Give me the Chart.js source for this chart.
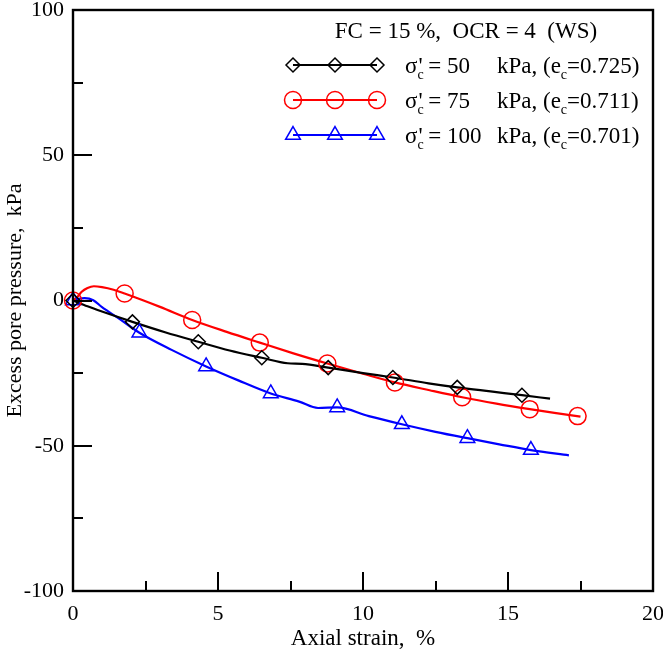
<!DOCTYPE html>
<html><head><meta charset="utf-8">
<script src="https://cdn.jsdelivr.net/npm/chart.js@4.4.0/dist/chart.umd.min.js"></script>
<style>html,body{margin:0;padding:0;background:#fff;}canvas{display:block;}</style>
</head><body>
<canvas id="c" width="663" height="653"></canvas>
<script>
// ---- data (axial strain %, excess pore pressure kPa) ----
const xMin = 0, xMax = 20, xStep = 5;
const yMin = -100, yMax = 100, yStep = 50;

const s50CurveX = [0, 0.5, 1.0, 2.05, 3.2, 4.32, 5.4, 6.51, 7.4, 7.9, 8.8, 10.0, 11.03, 12.26, 13.25, 14.4, 15.48, 16.45];
const s50CurveY = [0, -2.0, -3.8, -7.35, -11.0, -14.2, -17.2, -19.7, -21.6, -21.8, -23.1, -25.0, -26.5, -28.5, -29.9, -31.3, -32.6, -33.8];
const s50MarkX = [0, 2.05, 4.32, 6.51, 8.8, 11.03, 13.25, 15.48];
const s50MarkY = [0, -7.35, -14.2, -19.7, -23.1, -26.5, -29.9, -32.6];

const s75CurveX = [0, 0.15, 0.3, 0.5, 0.72, 1.0, 1.4, 1.78, 3.0, 4.11, 5.3, 6.44, 7.6, 8.77, 10.0, 11.1, 12.3, 13.42, 14.6, 15.75, 16.6, 17.5];
const s75CurveY = [0, 1.2, 3.0, 4.3, 4.9, 4.6, 3.7, 2.4, -2.2, -6.7, -10.8, -14.5, -18.2, -21.7, -25.2, -28.2, -30.9, -33.3, -35.5, -37.4, -38.7, -40.0];
const s75MarkX = [0, 1.78, 4.11, 6.44, 8.77, 11.1, 13.42, 15.75, 17.4];
const s75MarkY = [0, 2.4, -6.7, -14.5, -21.7, -28.2, -33.3, -37.4, -39.8];

const s100CurveX = [0, 0.2, 0.4, 0.7, 1.0, 1.6, 2.29, 3.4, 4.59, 5.7, 6.82, 7.8, 8.45, 9.11, 10.2, 11.34, 12.5, 13.6, 14.7, 15.79, 17.1];
const s100CurveY = [0, 0.6, 0.8, 0.1, -2.3, -6.3, -11.1, -17.0, -22.7, -27.5, -32.0, -34.8, -37.0, -36.8, -39.8, -42.6, -45.2, -47.4, -49.5, -51.5, -53.3];
const s100MarkX = [0, 2.29, 4.59, 6.82, 9.11, 11.34, 13.6, 15.79];
const s100MarkY = [0, -11.1, -22.7, -32.0, -36.8, -42.6, -47.4, -51.5];

const legendTitle = "FC = 15 %,  OCR = 4  (WS)";
const legendStress = ["50", "75", "100"];
const legendVoid = ["0.725", "0.711", "0.701"];
const xTitle = "Axial strain,  %";
const yTitle = "Excess pore pressure,  kPa";

// ---- styles ----
const FONT = '"Liberation Serif", "Times New Roman", serif';
const colors = ["#000000", "#ff0000", "#0000ff"];
const styles = ["rectRot", "circle", "triangle"];
const radii = [7, 8.5, 8.5];

function pts(xs, ys){ return xs.map((x,i)=>({x:x, y:ys[i]})); }

const curves = [[s50CurveX,s50CurveY],[s75CurveX,s75CurveY],[s100CurveX,s100CurveY]];
const marks = [[s50MarkX,s50MarkY],[s75MarkX,s75MarkY],[s100MarkX,s100MarkY]];

const datasets = [];
curves.forEach((c,i)=>{
  datasets.push({data:pts(c[0],c[1]), showLine:true, borderColor:colors[i], borderWidth:2.2,
    pointRadius:0, cubicInterpolationMode:'monotone', clip:false, order:2});
});
marks.forEach((m,i)=>{
  datasets.push({data:pts(m[0],m[1]), showLine:false, borderColor:colors[i], backgroundColor:'rgba(0,0,0,0)',
    pointStyle:styles[i], pointRadius:radii[i], pointBorderWidth:1.5, clip:false, order:1});
});

const framePlugin = {
  id:'frame',
  afterDatasetsDraw(chart){
    const ctx = chart.ctx, a = chart.chartArea;
    const xs = chart.scales.x, ys = chart.scales.y;
    ctx.save();
    ctx.strokeStyle = '#000'; ctx.lineWidth = 2;
    ctx.beginPath();
    for(let v = xMin; v <= xMax; v += 2.5){
      const px = Math.round(xs.getPixelForValue(v));
      const len = (v % 5 === 0) ? 19 : 10;
      ctx.moveTo(px, a.bottom); ctx.lineTo(px, a.bottom - len);
    }
    for(let v = yMin; v <= yMax; v += 25){
      const py = Math.round(ys.getPixelForValue(v));
      const len = (v % 50 === 0) ? 19 : 10;
      ctx.moveTo(a.left, py); ctx.lineTo(a.left + len, py);
    }
    ctx.stroke();
    ctx.lineWidth = 2.4;
    ctx.strokeRect(a.left, a.top, a.right - a.left, a.bottom - a.top);
    ctx.restore();
  },
  afterDraw(chart){
    const ctx = chart.ctx;
    ctx.save();
    ctx.fillStyle = '#000';
    ctx.textBaseline = 'alphabetic';
    ctx.font = '23px ' + FONT;
    ctx.textAlign = 'center';
    ctx.fillText(legendTitle, 466, 38);
    ctx.textAlign = 'left';
    const rowY = [65, 100, 135];
    for(let i=0;i<3;i++){
      const y = rowY[i];
      // sample line
      ctx.strokeStyle = colors[i]; ctx.lineWidth = 2.2;
      ctx.beginPath(); ctx.moveTo(293, y); ctx.lineTo(377, y); ctx.stroke();
      ctx.lineWidth = 1.5;
      [293, 335, 377].forEach(px=>{
        ctx.fillStyle = 'rgba(0,0,0,0)';
        Chart.helpers.drawPoint(ctx, {pointStyle:styles[i], radius:radii[i], borderWidth:1.5, rotation:0}, px, y);
      });
      // text
      ctx.fillStyle = '#000';
      const base = y + 8;
      let x = 405;
      ctx.font = '23px ' + FONT;
      ctx.fillText('\u03c3', x, base); x += ctx.measureText('\u03c3').width;
      ctx.font = '14px ' + FONT;
      ctx.fillText('c', x, base + 6);
      ctx.font = '23px ' + FONT;
      ctx.fillText("' = " + legendStress[i], x + 1, base);
      x = 497;
      ctx.fillText('kPa, (e', x, base); x += ctx.measureText('kPa, (e').width;
      ctx.font = '14px ' + FONT;
      ctx.fillText('c', x, base + 6); x += ctx.measureText('c').width;
      ctx.font = '23px ' + FONT;
      ctx.fillText('=' + legendVoid[i] + ')', x, base);
    }
    ctx.restore();
  }
};

new Chart(document.getElementById('c'), {
  type:'scatter',
  data:{datasets:datasets},
  options:{
    responsive:false, animation:false, devicePixelRatio:1,
    layout:{padding:{left:0, top:6, right:6, bottom:0}},
    plugins:{legend:{display:false}, tooltip:{enabled:false}},
    scales:{
      x:{type:'linear', min:xMin, max:xMax,
        ticks:{stepSize:xStep, padding:10, color:'#000', font:{family:FONT, size:22}, autoSkip:false, maxRotation:0},
        grid:{display:false, drawTicks:false},
        border:{display:true, color:'#000', width:2},
        title:{display:true, text:xTitle, color:'#000', font:{family:FONT, size:23}, padding:{top:0, bottom:0}},
        afterFit(s){ s.height = 62; s.paddingLeft = 0; s.paddingRight = 0; }
      },
      y:{type:'linear', min:yMin, max:yMax,
        ticks:{stepSize:yStep, padding:9, color:'#000', font:{family:FONT, size:22}, autoSkip:false},
        grid:{display:false, drawTicks:false},
        border:{display:true, color:'#000', width:2},
        title:{display:true, text:yTitle, color:'#000', font:{family:FONT, size:22}, padding:{top:2, bottom:0}},
        afterFit(s){ s.width = 73; s.paddingTop = 0; s.paddingBottom = 0; }
      }
    }
  },
  plugins:[framePlugin]
});
</script>
</body></html>
